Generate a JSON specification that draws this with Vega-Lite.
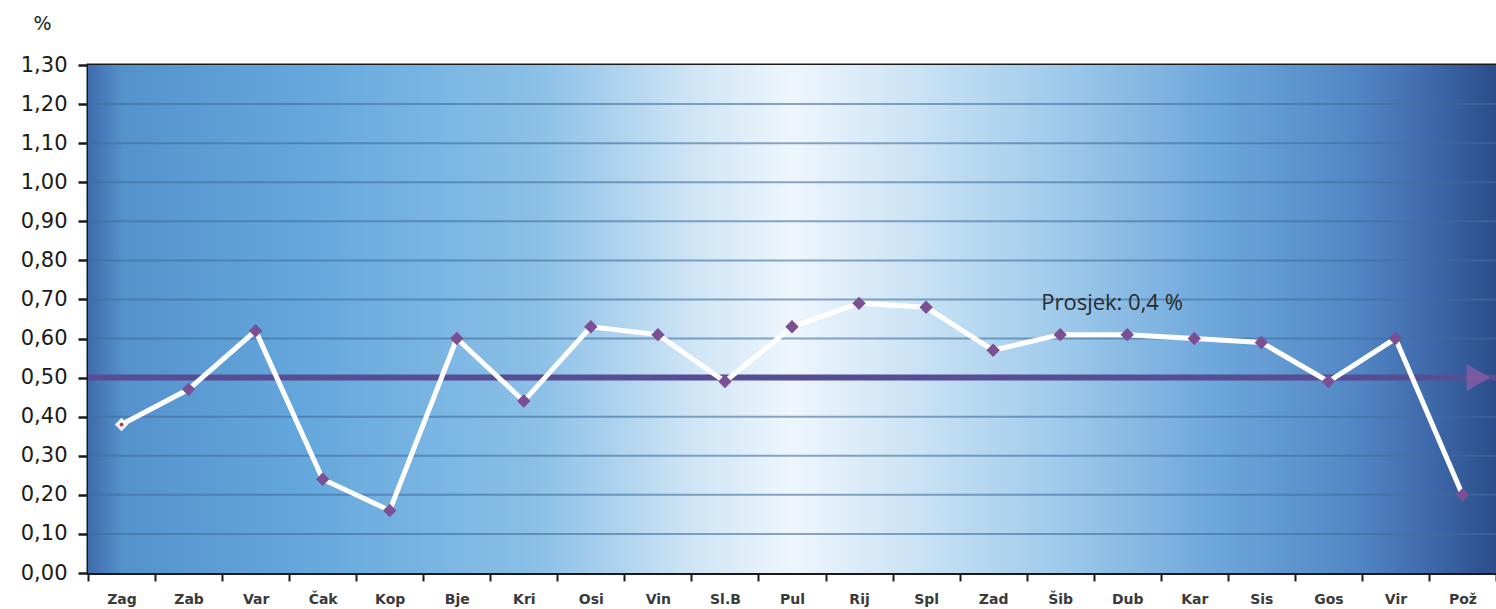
{
  "$schema": "https://vega.github.io/schema/vega-lite/v6.json",
  "width": 1408,
  "height": 508,
  "autosize": {"type": "none"},
  "padding": {"left": 88, "top": 65, "right": 0, "bottom": 36},
  "background": "white",
  "config": {
    "view": {"stroke": "#1a1a1a", "strokeWidth": 3},
    "font": "DejaVu Sans",
    "axisY": {"tickCount": 30, "labelOverlap": false}
  },
  "datasets": {
    "vals": [
      {"grad": "Zag", "v": 0.38},
      {"grad": "Zab", "v": 0.47},
      {"grad": "Var", "v": 0.62},
      {"grad": "Čak", "v": 0.24},
      {"grad": "Kop", "v": 0.16},
      {"grad": "Bje", "v": 0.60},
      {"grad": "Kri", "v": 0.44},
      {"grad": "Osi", "v": 0.63},
      {"grad": "Vin", "v": 0.61},
      {"grad": "Sl.B", "v": 0.49},
      {"grad": "Pul", "v": 0.63},
      {"grad": "Rij", "v": 0.69},
      {"grad": "Spl", "v": 0.68},
      {"grad": "Zad", "v": 0.57},
      {"grad": "Šib", "v": 0.61},
      {"grad": "Dub", "v": 0.61},
      {"grad": "Kar", "v": 0.60},
      {"grad": "Sis", "v": 0.59},
      {"grad": "Gos", "v": 0.49},
      {"grad": "Vir", "v": 0.60},
      {"grad": "Pož", "v": 0.20}
    ],
    "grid": [
      {"g": 0.1}, {"g": 0.2}, {"g": 0.3}, {"g": 0.4}, {"g": 0.5}, {"g": 0.6},
      {"g": 0.7}, {"g": 0.8}, {"g": 0.9}, {"g": 1.0}, {"g": 1.1}, {"g": 1.2}
    ],
    "one": [{"k": 1}]
  },
  "encoding": {
    "x": {
      "field": "grad",
      "type": "nominal",
      "sort": null,
      "scale": {
        "domain": ["Zag", "Zab", "Var", "Čak", "Kop", "Bje", "Kri", "Osi", "Vin", "Sl.B", "Pul", "Rij", "Spl", "Zad", "Šib", "Dub", "Kar", "Sis", "Gos", "Vir", "Pož"],
        "paddingInner": 0,
        "paddingOuter": 0
      },
      "axis": {
        "title": null,
        "labelAngle": 0,
        "labelFont": "DejaVu Sans",
        "labelFontSize": 14,
        "labelFontWeight": "bold",
        "labelColor": "#3a3a3a",
        "labelPadding": 11,
        "tickBand": "extent",
        "tickSize": 8,
        "tickWidth": 2,
        "tickColor": "#1a1a1a",
        "domainColor": "#1a1a1a",
        "domainWidth": 3
      }
    }
  },
  "layer": [
    {
      "data": {"name": "one"},
      "mark": {
        "type": "rect",
        "fill": {
          "gradient": "linear",
          "x1": 0, "y1": 0, "x2": 1, "y2": 0,
          "stops": [
            {"offset": 0.0, "color": "#3f6bab"},
            {"offset": 0.025, "color": "#5592cc"},
            {"offset": 0.15, "color": "#64a7dc"},
            {"offset": 0.32, "color": "#8bc0e7"},
            {"offset": 0.43, "color": "#cfe5f5"},
            {"offset": 0.50, "color": "#eef6fc"},
            {"offset": 0.57, "color": "#d2e7f6"},
            {"offset": 0.68, "color": "#a3cdec"},
            {"offset": 0.80, "color": "#6ea7db"},
            {"offset": 0.90, "color": "#5287c5"},
            {"offset": 0.96, "color": "#3c65a6"},
            {"offset": 1.0, "color": "#2b4d8a"}
          ]
        }
      },
      "encoding": {
        "x": null,
        "y": {
          "datum": 0,
          "type": "quantitative",
          "scale": {"domain": [0, 1.3], "nice": false, "zero": true},
          "axis": {
            "values": [0, 0.1, 0.2, 0.3, 0.4, 0.5, 0.6, 0.7, 0.8, 0.9, 1.0, 1.1, 1.2, 1.3],
            "tickCount": 30,
            "labelExpr": "replace(format(datum.value, '.2f'), '.', ',')",
            "labelOverlap": false,
            "labelFont": "DejaVu Sans",
            "labelFontSize": 21,
            "labelColor": "#1a1a1a",
            "labelPadding": 11,
            "tickSize": 10,
            "tickWidth": 2.5,
            "tickColor": "#1a1a1a",
            "domainColor": "#1a1a1a",
            "domainWidth": 3,
            "grid": false,
            "title": "%",
            "titleAngle": 0,
            "titleFont": "DejaVu Sans",
            "titleFontSize": 19,
            "titleFontWeight": "normal",
            "titleColor": "#1a1a1a",
            "titleAlign": "center",
            "titleBaseline": "middle",
            "titleX": -46,
            "titleY": -42
          }
        },
        "y2": {"datum": 1.3}
      }
    },
    {
      "data": {"name": "grid"},
      "mark": {"type": "rule", "stroke": "#3f6e9c", "strokeWidth": 2, "opacity": 0.6},
      "encoding": {
        "x": null,
        "y": {"field": "g", "type": "quantitative"}
      }
    },
    {
      "data": {"name": "one"},
      "mark": {"type": "rule", "stroke": "#574d93", "strokeWidth": 6},
      "encoding": {
        "x": null,
        "y": {"datum": 0.5, "type": "quantitative"}
      }
    },
    {
      "data": {"name": "one"},
      "mark": {"type": "point", "shape": "triangle-right", "filled": true, "fill": "#8e5ea6", "size": 750, "opacity": 0.7, "xOffset": 16},
      "encoding": {
        "x": {"datum": "Pož"},
        "y": {"datum": 0.5, "type": "quantitative"}
      }
    },
    {
      "data": {"name": "vals"},
      "mark": {"type": "line", "stroke": "white", "strokeWidth": 5},
      "encoding": {
        "y": {"field": "v", "type": "quantitative"}
      }
    },
    {
      "data": {"name": "vals"},
      "mark": {"type": "point", "shape": "diamond", "filled": true, "size": 180, "opacity": 1},
      "encoding": {
        "y": {"field": "v", "type": "quantitative"},
        "color": {
          "condition": {"test": "datum.grad === 'Zag'", "value": "#f4f2f6"},
          "value": "#7b4f93"
        }
      }
    },
    {
      "data": {"name": "vals"},
      "transform": [{"filter": "datum.grad === 'Zag'"}],
      "mark": {"type": "point", "shape": "circle", "filled": true, "size": 14, "color": "#c0304a", "opacity": 1},
      "encoding": {
        "y": {"field": "v", "type": "quantitative"}
      }
    },
    {
      "data": {"name": "one"},
      "mark": {"type": "text", "text": "Prosjek: 0,4 %", "font": "Open Sans", "fontSize": 22, "fontWeight": "normal", "fill": "#2a2a2a", "align": "left", "baseline": "middle", "dx": -19},
      "encoding": {
        "x": {"datum": "Šib"},
        "y": {"datum": 0.69, "type": "quantitative"}
      }
    }
  ]
}
